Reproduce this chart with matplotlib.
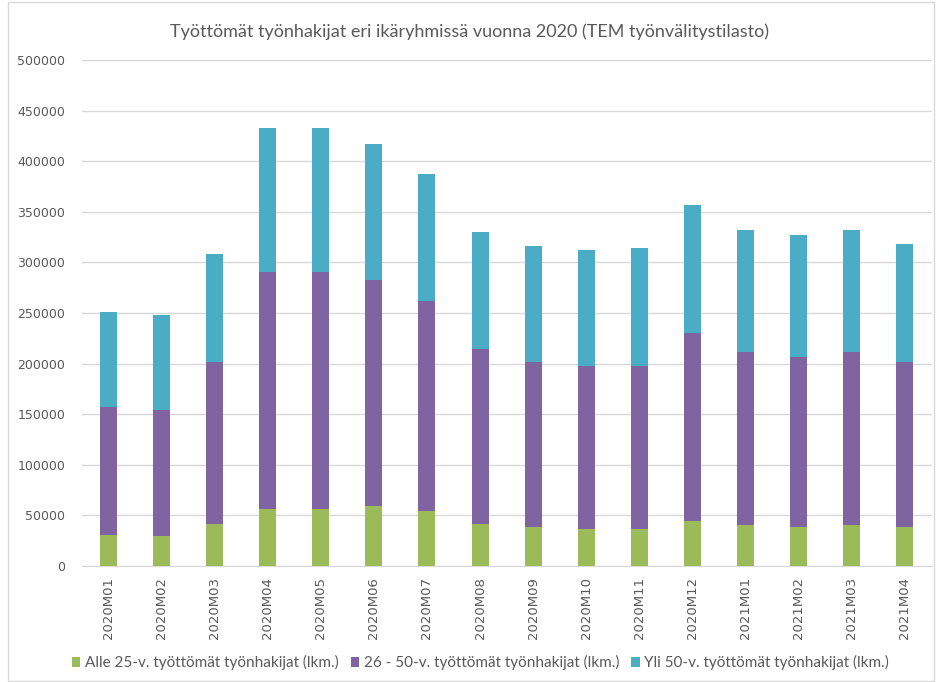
import matplotlib.pyplot as plt
import numpy as np
from matplotlib.patches import Rectangle

# Data
months = ['2020M01', '2020M02', '2020M03', '2020M04', '2020M05', '2020M06',
          '2020M07', '2020M08', '2020M09', '2020M10', '2020M11', '2020M12',
          '2021M01', '2021M02', '2021M03', '2021M04']
under25 = [30800, 29800, 41100, 56200, 56200, 59200, 54200, 41800,
           38500, 36500, 36500, 44100, 40500, 38800, 40800, 38800]
age26_50 = [126400, 124400, 160200, 234800, 234400, 223100, 207300, 172200,
            163200, 161500, 161500, 186300, 170900, 167900, 170600, 162900]
over50 = [94300, 93600, 107400, 141800, 142200, 134400, 125800, 115800,
          114400, 114700, 116400, 126800, 121000, 120700, 120400, 116400]

labels = ['Alle 25-v. työttömät työnhakijat (lkm.)',
          '26 - 50-v. työttömät työnhakijat (lkm.)',
          'Yli 50-v. työttömät työnhakijat (lkm.)']
colors = ['#9BBB59', '#8064A2', '#4BACC6']

text_col = '#595959'
plt.rcParams['font.family'] = 'Lato'

fig = plt.figure(figsize=(9.4, 6.82), dpi=100)
ax = fig.add_axes([0.087, 0.170, 0.904, 0.742])

x = np.arange(len(months))
w = 0.32
b1 = np.array(under25)
b2 = b1 + np.array(age26_50)
ax.bar(x, under25, w, color=colors[0], label=labels[0], zorder=3)
ax.bar(x, age26_50, w, bottom=b1, color=colors[1], label=labels[1], zorder=3)
ax.bar(x, over50, w, bottom=b2, color=colors[2], label=labels[2], zorder=3)

ax.set_xlim(-0.5, len(months) - 0.5)
ax.set_ylim(0, 500000)
ax.set_yticks(np.arange(0, 500001, 50000))
ax.set_yticklabels([str(v) for v in range(0, 500001, 50000)],
                   fontsize=9, color=text_col, family='DejaVu Sans')
ax.set_xticks(x)
ax.set_xticklabels(months, rotation=90, fontsize=9.5, color=text_col,
                   family='DejaVu Sans')
ax.tick_params(axis='y', length=0, pad=12)
ax.tick_params(axis='x', length=0, pad=8)
ax.grid(axis='y', color='#D9D9D9', linewidth=1, zorder=0)
for s in ['left', 'right', 'top']:
    ax.spines[s].set_visible(False)
ax.spines['bottom'].set_color('#D9D9D9')

fig.text(0.5, 0.953, 'Työttömät työnhakijat eri ikäryhmissä vuonna 2020 (TEM työnvälitystilasto)',
         ha='center', va='center', fontsize=13, color=text_col)

fig.legend(loc='center', bbox_to_anchor=(0.511, 0.028), ncol=3, frameon=False,
           fontsize=11, labelcolor=text_col, handlelength=0.55, handleheight=0.55,
           handletextpad=0.3, columnspacing=0.8)

fig.patches.append(Rectangle((0.009, 0.002), 0.985, 0.995, transform=fig.transFigure,
                             fill=False, edgecolor='#D9D9D9', linewidth=1))

plt.savefig('out.png', dpi=100)
